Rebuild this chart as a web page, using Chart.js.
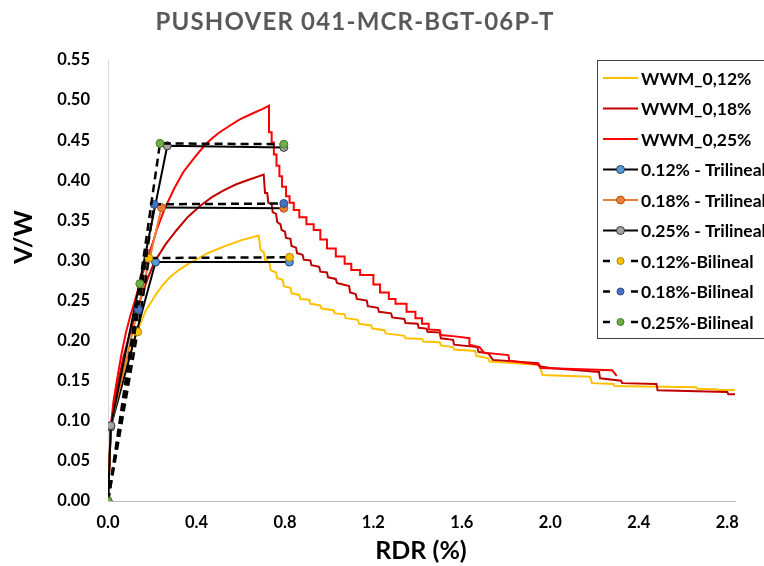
<!DOCTYPE html>
<html>
<head>
<meta charset="utf-8">
<script src="https://cdn.jsdelivr.net/npm/chart.js@4.4.1/dist/chart.umd.min.js"></script>
<style>
  html, body { margin: 0; padding: 0; background: #fff; }
</style>
</head>
<body>
<canvas id="myChart" width="764" height="566"></canvas>
<script>
// pushover curves, [RDR %, V/W]
const wwm012 = [[0,0],[0.013,0.094],[0.04,0.13],[0.08,0.17],[0.13,0.21],[0.17,0.237],[0.22,0.259],[0.25,0.27],[0.28,0.279],[0.32,0.288],[0.37,0.297],[0.41,0.303],[0.45,0.309],[0.52,0.317],[0.60,0.325],[0.681,0.331],
  [0.690,0.313],[0.705,0.310],[0.710,0.301],[0.730,0.298],[0.735,0.288],[0.760,0.285],[0.765,0.278],[0.790,0.276],[0.795,0.268],[0.825,0.266],[0.830,0.259],[0.865,0.257],[0.870,0.252],
  [0.910,0.251],[0.915,0.246],[0.960,0.244],[0.965,0.240],[1.020,0.238],[1.025,0.234],[1.070,0.233],[1.075,0.228],[1.130,0.226],[1.135,0.221],[1.190,0.219],[1.195,0.215],
  [1.250,0.213],[1.255,0.209],[1.340,0.206],[1.345,0.203],[1.420,0.202],[1.425,0.199],[1.500,0.198],[1.505,0.194],[1.560,0.192],[1.565,0.189],[1.660,0.187],[1.665,0.181],
  [1.720,0.178],[1.725,0.174],[1.950,0.170],[1.965,0.157],[2.180,0.155],[2.188,0.147],[2.285,0.146],[2.290,0.1435],[2.660,0.142],[2.665,0.140],[2.750,0.1395],[2.755,0.1385],[2.835,0.1385]];

const wwm018 = [[0,0],[0.013,0.094],[0.04,0.14],[0.07,0.18],[0.10,0.21],[0.145,0.25],[0.18,0.278],[0.21,0.298],[0.26,0.32],[0.311,0.338],[0.36,0.354],[0.416,0.368],[0.47,0.379],[0.521,0.387],[0.58,0.395],[0.64,0.401],[0.704,0.407],
  [0.710,0.384],[0.720,0.384],[0.725,0.372],[0.740,0.370],[0.745,0.360],[0.760,0.358],[0.765,0.348],[0.780,0.345],[0.785,0.338],[0.800,0.336],[0.805,0.328],[0.825,0.327],[0.830,0.318],
  [0.850,0.316],[0.855,0.309],[0.880,0.307],[0.885,0.301],[0.915,0.300],[0.920,0.294],[0.955,0.292],[0.960,0.286],[0.990,0.285],[0.995,0.279],[1.030,0.277],[1.035,0.272],
  [1.090,0.268],[1.095,0.260],[1.120,0.258],[1.125,0.252],[1.170,0.250],[1.175,0.243],[1.220,0.241],[1.225,0.236],[1.280,0.234],[1.285,0.229],[1.340,0.227],[1.345,0.222],
  [1.400,0.221],[1.405,0.216],[1.440,0.215],[1.445,0.211],[1.500,0.210],[1.505,0.203],[1.560,0.201],[1.565,0.195],[1.670,0.192],[1.675,0.186],[1.720,0.184],[1.740,0.176],
  [1.945,0.172],[1.950,0.168],[2.000,0.166],[2.220,0.161],[2.225,0.153],[2.320,0.150],[2.325,0.147],[2.480,0.146],[2.485,0.138],[2.800,0.136],[2.805,0.133],[2.835,0.133]];

const wwm025 = [[0,0],[0.013,0.094],[0.025,0.125],[0.04,0.15],[0.06,0.182],[0.081,0.21],[0.10,0.23],[0.122,0.25],[0.15,0.278],[0.175,0.30],[0.20,0.32],[0.22,0.338],[0.257,0.365],[0.30,0.39],[0.34,0.41],[0.39,0.428],[0.438,0.444],[0.47,0.452],[0.50,0.459],[0.55,0.468],[0.596,0.476],[0.65,0.483],[0.70,0.489],[0.728,0.493],
  [0.728,0.460],[0.740,0.460],[0.740,0.447],[0.750,0.447],[0.750,0.432],[0.762,0.432],[0.762,0.418],[0.775,0.418],[0.775,0.405],[0.787,0.405],[0.787,0.392],[0.805,0.392],[0.805,0.380],
  [0.821,0.380],[0.821,0.372],[0.840,0.372],[0.840,0.363],[0.865,0.363],[0.865,0.354],[0.897,0.354],[0.897,0.345],[0.930,0.345],[0.930,0.338],[0.960,0.338],[0.960,0.326],
  [0.990,0.326],[0.990,0.315],[1.030,0.315],[1.030,0.305],[1.070,0.305],[1.070,0.296],[1.100,0.296],[1.100,0.288],[1.140,0.288],[1.140,0.282],[1.200,0.282],[1.200,0.270],
  [1.230,0.270],[1.230,0.260],[1.270,0.260],[1.270,0.252],[1.300,0.252],[1.300,0.246],[1.350,0.246],[1.350,0.236],[1.390,0.236],[1.390,0.228],[1.420,0.228],[1.420,0.221],
  [1.450,0.221],[1.450,0.214],[1.500,0.213],[1.505,0.207],[1.580,0.205],[1.634,0.203],[1.634,0.195],[1.680,0.192],[1.700,0.185],[1.810,0.182],[1.815,0.175],[1.950,0.170],
  [1.955,0.166],[2.070,0.165],[2.280,0.163],[2.300,0.156]];

// idealised curves
const tri012 = [[0,0],[0.012,0.092],[0.215,0.298],[0.820,0.298]];
const tri018 = [[0,0],[0.012,0.093],[0.242,0.366],[0.795,0.365]];
const tri025 = [[0,0],[0.013,0.094],[0.268,0.443],[0.795,0.441]];
const bil012 = [[0,0],[0.134,0.211],[0.185,0.303],[0.821,0.304]];
const bil018 = [[0,0],[0.137,0.239],[0.209,0.370],[0.795,0.371]];
const bil025 = [[0,0],[0.144,0.271],[0.235,0.446],[0.795,0.445]];

const xTicksStep = 0.4;
const yTicksStep = 0.05;

function pts(arr) { return arr.map(p => ({ x: p[0], y: p[1] })); }

// lower order is drawn on top, so later series (as in excel) get smaller numbers
function curve(label, arr, color, order) {
  return { label: label, data: pts(arr), borderColor: color, backgroundColor: color,
    borderWidth: 2, pointRadius: 0, order: order };
}
function tri(label, arr, line, marker, border, order) {
  return { label: label, data: pts(arr), borderColor: line, backgroundColor: marker,
    borderWidth: 2, pointRadius: 4, pointBackgroundColor: marker, pointBorderColor: border,
    pointBorderWidth: 1, order: order };
}
function bil(label, arr, marker, border, order) {
  return { label: label, data: pts(arr), borderColor: '#000', backgroundColor: marker,
    borderWidth: 2.5, borderDash: [8, 5], pointRadius: 4, pointBackgroundColor: marker,
    pointBorderColor: border, pointBorderWidth: 1, order: order };
}

const orangeTri = tri('0.18% - Trilineal', tri018, '#ED7D31', '#ED7D31', '#ae5a21', 5);
orangeTri.segment = { borderColor: c => Math.abs(c.p0.parsed.y - c.p1.parsed.y) < 0.005 ? '#000' : undefined };

const datasets = [
  curve('WWM_0,12%', wwm012, '#FFC000', 9),
  curve('WWM_0,18%', wwm018, '#C00000', 8),
  curve('WWM_0,25%', wwm025, '#FF0000', 7),
  tri('0.12% - Trilineal', tri012, '#000', '#5B9BD5', '#1f3f66', 6),
  orangeTri,
  tri('0.25% - Trilineal', tri025, '#000', '#A5A5A5', '#333', 4),
  bil('0.12%-Bilineal', bil012, '#FFC000', '#b08400', 3),
  bil('0.18%-Bilineal', bil018, '#4472C4', '#2f4f8a', 2),
  bil('0.25%-Bilineal', bil025, '#70AD47', '#4a7a2c', 1)
];

// legend box, title and axis titles
const decorations = {
  id: 'decorations',
  afterDraw(chart) {
    const ctx = chart.ctx;
    ctx.save();
    // title
    ctx.fillStyle = '#595959';
    ctx.font = 'bold 24px Lato';
    ctx.textAlign = 'center';
    ctx.textBaseline = 'middle';
    ctx.letterSpacing = '1.2px';
    ctx.fillText('PUSHOVER 041-MCR-BGT-06P-T', 355, 22);
    ctx.letterSpacing = '0px';
    // y title
    ctx.fillStyle = '#000';
    ctx.font = 'bold 25px Lato';
    ctx.save();
    ctx.translate(24, 237);
    ctx.rotate(-Math.PI / 2);
    ctx.fillText('V/W', 0, 0);
    ctx.restore();
    // x title
    ctx.font = 'bold 25px Lato';
    ctx.fillText('RDR (%)', 421, 551);

    // legend (box runs past the right edge, as in the original)
    const x0 = 597, y0 = 60, w = 200, h = 278;
    ctx.fillStyle = '#fff';
    ctx.fillRect(x0, y0, w, h);
    ctx.strokeStyle = '#404040';
    ctx.lineWidth = 1;
    ctx.strokeRect(x0 + 0.5, y0 + 0.5, w, h);
    chart.data.datasets.forEach((ds, i) => {
      const cy = y0 + 18 + i * 30.5;
      ctx.strokeStyle = ds.borderColor;
      ctx.lineWidth = ds.borderWidth;
      ctx.beginPath();
      if (ds.borderDash) {
        ctx.moveTo(603, cy); ctx.lineTo(610, cy);
        ctx.moveTo(631, cy); ctx.lineTo(638, cy);
      } else {
        ctx.moveTo(603, cy); ctx.lineTo(638, cy);
      }
      ctx.stroke();
      if (ds.pointRadius) {
        ctx.beginPath();
        ctx.arc(620.5, cy, ds.borderDash ? 3.5 : 4, 0, Math.PI * 2);
        ctx.fillStyle = ds.pointBackgroundColor;
        ctx.fill();
        ctx.lineWidth = 1;
        ctx.strokeStyle = ds.pointBorderColor;
        ctx.stroke();
      }
      ctx.fillStyle = '#000';
      ctx.font = 'bold 17.5px Lato';
      ctx.textAlign = 'left';
      ctx.textBaseline = 'middle';
      ctx.fillText(ds.label, 641, cy + 1);
    });
    ctx.restore();
  }
};

Chart.defaults.font.family = 'Lato';

const config = {
  type: 'line',
  data: { datasets: datasets },
  options: {
    responsive: false,
    animation: false,
    devicePixelRatio: 1,
    layout: { padding: { top: 60, right: 29, left: 0, bottom: 0 } },
    plugins: { legend: { display: false }, title: { display: false }, tooltip: { enabled: false } },
    scales: {
      x: {
        type: 'linear', min: 0, max: 2.835,
        grid: { display: false, drawTicks: false },
        border: { display: true, color: '#bfbfbf', width: 1 },
        ticks: { stepSize: xTicksStep, includeBounds: false, padding: 12, color: '#000',
          font: { size: 16.5, weight: 'bold' }, maxRotation: 0,
          callback: v => v.toFixed(1) },
        afterFit: s => { s.height = 65; }
      },
      y: {
        type: 'linear', min: 0, max: 0.55,
        grid: { display: false, drawTicks: false },
        border: { display: true, color: '#d9d9d9', width: 1 },
        ticks: { stepSize: yTicksStep, padding: 18, color: '#000',
          font: { size: 16.5, weight: 'bold' },
          callback: v => v.toFixed(2) },
        afterFit: s => { s.width = 108; }
      }
    }
  },
  plugins: [decorations]
};

const myChart = new Chart(document.getElementById('myChart'), config);
</script>
</body>
</html>
